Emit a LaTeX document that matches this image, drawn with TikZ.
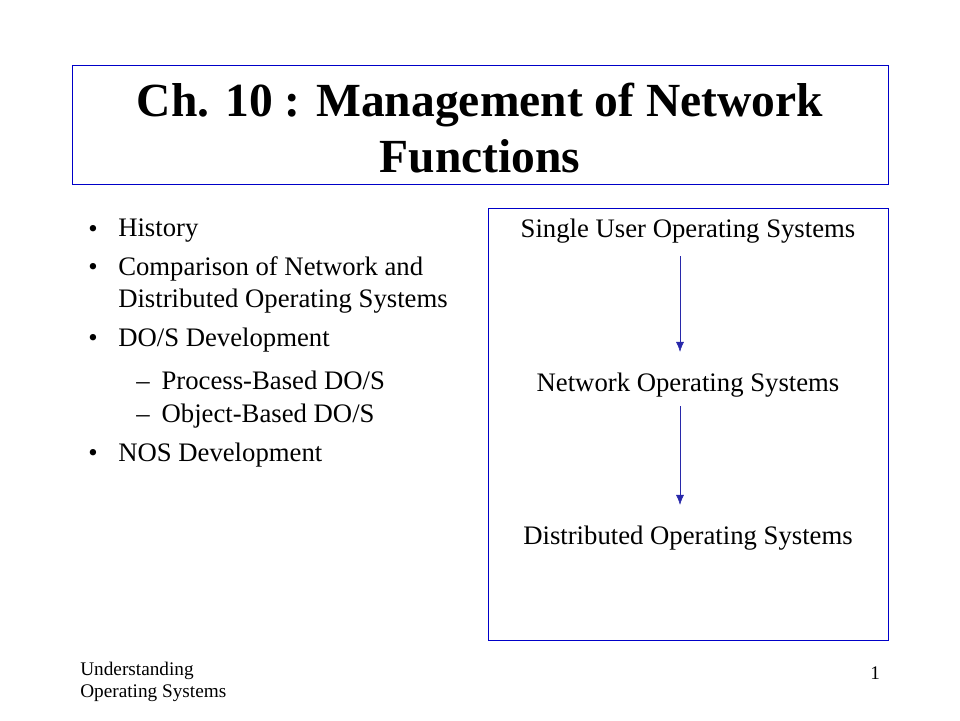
\documentclass[tikz,border=0pt]{standalone}
\usepackage{fontspec}
\setmainfont{Liberation Serif}
\usepackage{xcolor}
\usetikzlibrary{arrows.meta}
\begin{document}
\begin{tikzpicture}
				% colours
				\definecolor{boxblue}{RGB}{0,0,200}
				\definecolor{arrowblue}{RGB}{40,40,170}
				\tikzset{body/.style={anchor=west,font=\fontsize{19}{22}\selectfont,inner sep=0pt},
					flow/.style={font=\fontsize{19}{22}\selectfont},
					foot/.style={anchor=west,font=\fontsize{13.7}{16}\selectfont,inner sep=0pt,align=left}}
				\useasboundingbox (0,0) rectangle (24,18);
				% title box
				\draw[boxblue,thin] (1.8,13.4) rectangle (22.2,16.375);
				\node[align=center,font=\fontsize{33.8}{40}\selectfont\bfseries] (title) at (12,14.8)
				{Ch. 10 : Management of Network\\Functions};
				
				% bullets
				\foreach \y in {12.225,11.275,9.5,6.625}
				\node[body] at (2.2,\y) {\textbullet};
				\node[body] (hist) at (2.95,12.225) {History};
				\node[body] (comp) at (2.95,11.275) {Comparison of Network and};
				\node[body] (comp2) at (2.95,10.475) {Distributed Operating Systems};
				\node[body] (dos) at (2.95,9.5) {DO/S Development};
				\node[body] (proc) at (3.4,8.5) {--\hspace{0.3cm}Process-Based DO/S};
				\node[body] (obj) at (3.4,7.6) {--\hspace{0.3cm}Object-Based DO/S};
				\node[body] (nos) at (2.95,6.625) {NOS Development};
				
				% right box
				\draw[boxblue,thin] (12.2,2) rectangle (22.2,12.8);
				\node[flow] (single) at (17.2,12.225) {Single User Operating Systems};
				\node[flow] (network) at (17.2,8.375) {Network Operating Systems};
				\node[flow] (distr) at (17.2,4.55) {Distributed Operating Systems};
				\draw[arrowblue,-{Latex[length=2.5mm,width=2mm]},shorten <=0.2cm,shorten >=0.4cm]
				([xshift=-2mm]single.south) -- ([xshift=-2mm]network.north);
				\draw[arrowblue,-{Latex[length=2.5mm,width=2mm]},shorten <=0.1cm,shorten >=0.4cm]
				([xshift=-2mm]network.south) -- ([xshift=-2mm]distr.north);
				
				% footer
				\node[foot] (under) at (2,0.95) {Understanding\\Operating Systems};
				\node[foot] (page) at (21.75,1.175) {1};
\end{tikzpicture}
\end{document}
